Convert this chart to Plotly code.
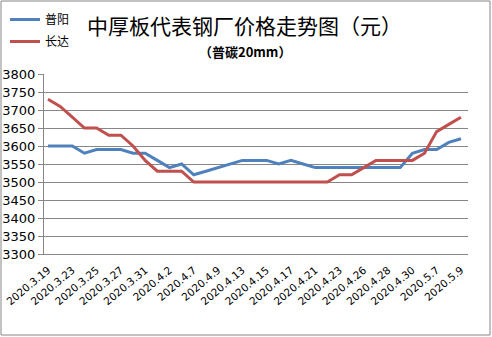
import plotly.graph_objects as go

dates = ["2020.3.19", "2020.3.20", "2020.3.23", "2020.3.24", "2020.3.25", "2020.3.26",
         "2020.3.27", "2020.3.30", "2020.3.31", "2020.4.1", "2020.4.2", "2020.4.3",
         "2020.4.7", "2020.4.8", "2020.4.9", "2020.4.10", "2020.4.13", "2020.4.14",
         "2020.4.15", "2020.4.16", "2020.4.17", "2020.4.20", "2020.4.21", "2020.4.22",
         "2020.4.23", "2020.4.24", "2020.4.26", "2020.4.27", "2020.4.28", "2020.4.29",
         "2020.4.30", "2020.5.6", "2020.5.7", "2020.5.8", "2020.5.9"]
tick_labels = ["2020.3.19", "2020.3.23", "2020.3.25", "2020.3.27", "2020.3.31", "2020.4.2",
               "2020.4.7", "2020.4.9", "2020.4.13", "2020.4.15", "2020.4.17", "2020.4.21",
               "2020.4.23", "2020.4.26", "2020.4.28", "2020.4.30", "2020.5.7", "2020.5.9"]
puyang = [3600, 3600, 3600, 3580, 3590, 3590, 3590, 3580, 3580, 3560, 3540, 3550,
          3520, 3530, 3540, 3550, 3560, 3560, 3560, 3550, 3560, 3550, 3540, 3540,
          3540, 3540, 3540, 3540, 3540, 3540, 3580, 3590, 3590, 3610, 3620]
changda = [3730, 3710, 3680, 3650, 3650, 3630, 3630, 3600, 3560, 3530, 3530, 3530,
           3500, 3500, 3500, 3500, 3500, 3500, 3500, 3500, 3500, 3500, 3500, 3500,
           3520, 3520, 3540, 3560, 3560, 3560, 3560, 3580, 3640, 3660, 3680]

grid = "#868686"
cjk = "Noto Sans CJK SC"

fig = go.Figure()
fig.add_trace(go.Scatter(x=dates, y=puyang, mode="lines", name="普阳", legendgroup="a",
                         line=dict(color="#4F81BD", width=3)))
fig.add_trace(go.Scatter(x=dates, y=changda, mode="lines", name="长达", legendgroup="b",
                         line=dict(color="#C0504D", width=3)))

fig.update_layout(
    width=492, height=337,
    margin=dict(l=44, r=24, t=74, b=83, autoexpand=False),
    paper_bgcolor="white", plot_bgcolor="white",
    showlegend=True,
    legend=dict(x=5 / 492, y=1 - 5 / 337, xref="container", yref="container",
                xanchor="left", yanchor="top", tracegroupgap=3,
                font=dict(family=cjk, size=12, color="#000"),
                bgcolor="rgba(0,0,0,0)"),
    xaxis=dict(type="category", categoryorder="array", categoryarray=dates,
               range=[-0.33, 34.58], tickvals=tick_labels, ticktext=tick_labels,
               tickangle=-40, tickfont=dict(family="DejaVu Sans", size=10.5, color="#000"),
               showgrid=False, showline=True, linecolor=grid, linewidth=1,
               ticks="outside", ticklen=5, tickcolor="rgba(0,0,0,0)",
               automargin=False),
    yaxis=dict(range=[3300, 3800], dtick=50, tick0=3300, showgrid=True, gridcolor=grid,
               gridwidth=1, showline=True, linecolor=grid, linewidth=1, ticks="outside",
               ticklen=5, tickcolor=grid, automargin=False,
               tickfont=dict(family="DejaVu Sans", size=13, color="#000"),
               zeroline=False),
    annotations=[
        dict(text="中厚板代表钢厂价格走势图（元）", xref="paper", yref="paper",
             x=(244 - 44) / 424, y=(254 - 25) / 180, xanchor="center", yanchor="middle",
             showarrow=False, font=dict(family=cjk, size=21, color="#000")),
        dict(text="<b>（普碳20mm）</b>", xref="paper", yref="paper",
             x=(245 - 44) / 424, y=(254 - 51) / 180, xanchor="center", yanchor="middle",
             showarrow=False, font=dict(family=cjk, size=13, color="#000")),
    ],
    shapes=[dict(type="rect", xref="paper", yref="paper",
                 x0=(1 - 44) / 424, x1=(490 - 44) / 424,
                 y0=(254 - 335) / 180, y1=(254 - 1) / 180,
                 line=dict(color=grid, width=1), fillcolor="rgba(0,0,0,0)")],
)

fig.write_html("out.html")
